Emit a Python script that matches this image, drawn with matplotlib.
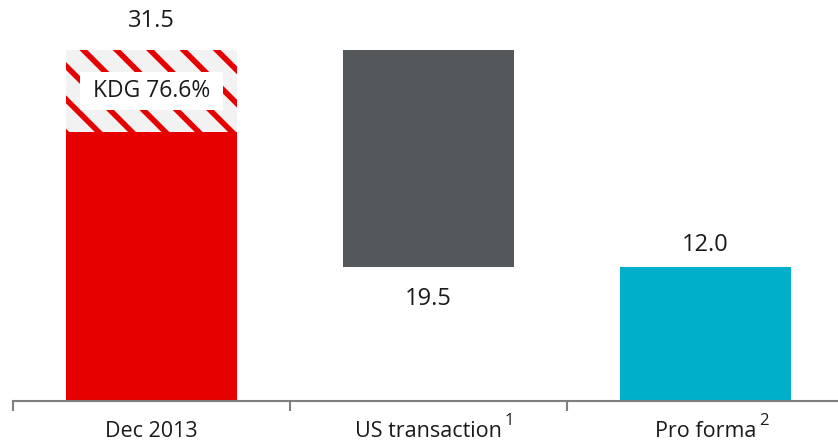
import matplotlib
matplotlib.use("Agg")
import matplotlib.pyplot as plt

plt.rcParams['font.family'] = ['Open Sans', 'DejaVu Sans']
plt.rcParams['hatch.linewidth'] = 4.0

# data
categories = ['Dec 2013', 'US transaction', 'Pro forma']
footnotes = ['', '1', '2']
opening = 31.5
us_change = -19.5
pro_forma = 12.0
kdg_share = 76.6

red = '#e60000'
grey = '#54585a'
cyan = '#00b0ca'
text_color = '#1a1a1a'

fig = plt.figure(figsize=(8.38, 4.44), dpi=100)
ax = fig.add_axes([13 / 838, 43 / 444, 831 / 838, 401 / 444])

width = 0.62
solid_part = opening * kdg_share / 100
striped_part = opening - solid_part

# Dec 2013: solid part plus striped KDG part
ax.bar(0, solid_part, width, color=red, linewidth=0)
ax.bar(0, striped_part, width, bottom=solid_part, facecolor='#f2f2f2',
       edgecolor=red, hatch='\\', linewidth=0)
ax.text(0, solid_part + striped_part / 2, f' KDG {kdg_share:.1f}% ', ha='center',
        va='center', fontsize=16.5, color=text_color,
        bbox=dict(boxstyle='square,pad=0.3', facecolor='white', edgecolor='none'))

# US transaction: floating bar
ax.bar(1, -us_change, width, bottom=opening + us_change, color=grey, linewidth=0)

# Pro forma
ax.bar(2, pro_forma, width, color=cyan, linewidth=0)

# value labels
ax.annotate(f'{opening:.1f}', (0, opening), xytext=(0, 21), textcoords='offset points',
            ha='center', va='center', fontsize=17, color=text_color)
ax.annotate(f'{-us_change:.1f}', (1, opening + us_change), xytext=(0, -23),
            textcoords='offset points', ha='center', va='center', fontsize=17, color=text_color)
ax.annotate(f'{pro_forma:.1f}', (2, pro_forma), xytext=(0, 16), textcoords='offset points',
            ha='center', va='center', fontsize=17, color=text_color)

# category labels, footnote numbers as separate superscripts
for i, (cat, fn) in enumerate(zip(categories, footnotes)):
    main = ax.annotate(cat, (i, 0), xycoords=('data', 'axes fraction'), xytext=(0, -26),
                       textcoords='offset points', ha='center', va='baseline', fontsize=15.5,
                       color=text_color, annotation_clip=False)
    if fn:
        ax.annotate(fn, (1, 1), xycoords=main, xytext=(2, 6), textcoords='offset points',
                    ha='left', va='top', fontsize=12, color=text_color,
                    annotation_clip=False)

ax.set_xlim(-0.5, 2.5)
ax.set_ylim(0, 36)
ax.set_xticks([])
ax.set_xticks([-0.5, 0.5, 1.5, 2.5], minor=True)
ax.tick_params(axis='x', which='minor', length=7, width=1.5, color='#7f7f7f')
ax.set_yticks([])
for side in ['left', 'right', 'top']:
    ax.spines[side].set_visible(False)
ax.spines['bottom'].set_color('#7f7f7f')
ax.spines['bottom'].set_linewidth(1.5)

fig.savefig('out.png', dpi=100)
